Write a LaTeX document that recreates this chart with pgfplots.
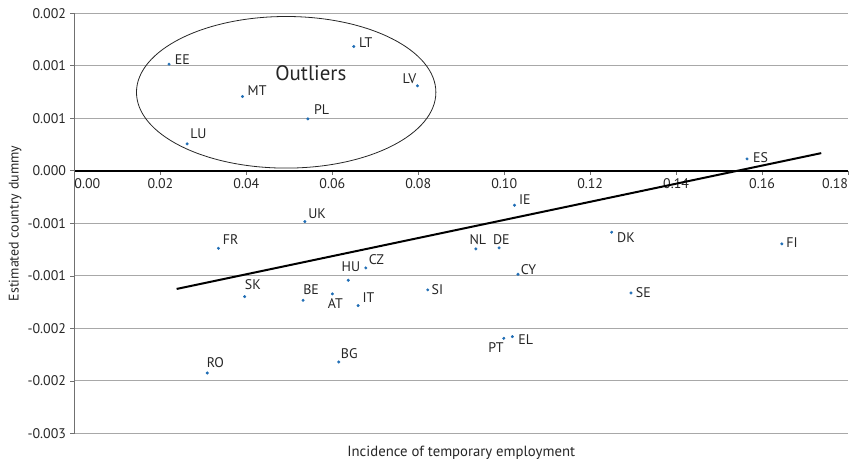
\documentclass[border=0pt]{standalone}
\usepackage{fontspec}
\setmainfont{PT Sans}
\usepackage{pgfplots}
\usepackage{pgfplotstable}
\pgfplotsset{compat=1.18}
\definecolor{dotblue}{HTML}{1F6DB5}
\definecolor{gridgray}{HTML}{A8A8A8}
\definecolor{axgray}{HTML}{707070}

\pgfplotstableread{
x y
0.0220 0.001016
0.0650 0.001184
0.0391 0.000708
0.0798 0.000810
0.0543 0.000495
0.0262 0.000257
0.0536 -0.000483
0.0335 -0.000737
0.0678 -0.000924
0.0637 -0.001041
0.0396 -0.001197
0.0532 -0.001232
0.0600 -0.001171
0.0660 -0.001283
0.0822 -0.001133
0.0615 -0.001819
0.0309 -0.001924
0.1565 0.000114
0.1024 -0.000327
0.0934 -0.000743
0.0988 -0.000733
0.1250 -0.000584
0.1646 -0.000695
0.1032 -0.000984
0.1295 -0.001162
0.0999 -0.001594
0.1019 -0.001578
}\countries

\newcommand{\lab}[6]{\node[anchor=#4, xshift=#5bp, yshift=#6bp, inner sep=0pt, text=black!85, font=\fontsize{14}{16}\selectfont] at (axis cs:#1,#2) {#3};}

\begin{document}
\begin{tikzpicture}
\begin{axis}[
  name=ax,
  scale only axis,
  width=773.5bp, height=420.2bp,
  xmin=0, xmax=0.18, ymin=-0.0025, ymax=0.0015,
  axis x line=middle, axis y line=left,
  axis line style={-},
  x axis line style={black, line width=1.3bp},
  y axis line style={axgray, line width=1bp},
  hide obscured x ticks=false, hide obscured y ticks=false,
  xtick={0,0.02,0.04,0.06,0.08,0.10,0.12,0.14,0.16,0.18},
  xticklabels={\makebox[0pt][l]{0.00},0.02,0.04,0.06,0.08,0.10,0.12,0.14,0.16,\makebox[0pt][r]{0.18}},
  ytick={-0.0025,-0.002,-0.0015,-0.001,-0.0005,0,0.0005,0.001,0.0015},
  yticklabels={-0.003,-0.002,-0.002,-0.001,-0.001,0.000,0.001,0.001,0.002},
  scaled x ticks=false, scaled y ticks=false,
  tick align=outside,
  major tick length=4bp,
  tick style={axgray, line width=0.8bp},
  ticklabel style={font=\fontsize{14}{16}\selectfont, text=black!85},
  yticklabel style={xshift=-1bp},
  ymajorgrids,
  major grid style={gridgray, line width=1bp},
  every axis x label/.style={at={(rel axis cs:0.5,0)}, anchor=center, yshift=-19bp, font=\fontsize{14.8}{17}\selectfont, text=black!85},
  every axis y label/.style={at={(rel axis cs:0,0.5)}, anchor=center, xshift=-59.5bp, rotate=90, font=\fontsize{14}{16}\selectfont, text=black!85},
  xlabel={Incidence of temporary employment},
  ylabel={Estimated country dummy},
  clip=false,
]
\addplot[black, line width=2bp] coordinates {(0.02377,-0.001124) (0.17377,0.000169)};
\addplot[only marks, mark=*, mark size=1.3bp, color=dotblue] table[x=x, y=y] {\countries};
\lab{0.0220}{0.001016}{EE}{west}{5.7}{4.3}
\lab{0.0650}{0.001184}{LT}{west}{5}{4}
\lab{0.0391}{0.000708}{MT}{west}{5}{5.7}
\lab{0.0798}{0.000810}{LV}{east}{-1}{7.3}
\lab{0.0543}{0.000495}{PL}{west}{6}{9.7}
\lab{0.0262}{0.000257}{LU}{west}{3}{10}
\lab{0.0536}{-0.000483}{UK}{west}{3.3}{8.3}
\lab{0.0335}{-0.000737}{FR}{west}{4.3}{8.3}
\lab{0.0678}{-0.000924}{CZ}{west}{2.7}{8.7}
\lab{0.0637}{-0.001041}{HU}{center}{2.7}{14}
\lab{0.0396}{-0.001197}{SK}{west}{0}{11.7}
\lab{0.0532}{-0.001232}{BE}{west}{0}{11}
\lab{0.0600}{-0.001171}{AT}{center}{3}{-9.3}
\lab{0.0660}{-0.001283}{IT}{west}{4.3}{8.3}
\lab{0.0822}{-0.001133}{SI}{west}{3.7}{0}
\lab{0.0615}{-0.001819}{BG}{west}{2}{8.7}
\lab{0.0309}{-0.001924}{RO}{west}{-0.7}{10.7}
\lab{0.1565}{0.000114}{ES}{west}{6}{1.7}
\lab{0.1024}{-0.000327}{IE}{west}{4.3}{5.3}
\lab{0.0934}{-0.000743}{NL}{center}{2}{9}
\lab{0.0988}{-0.000733}{DE}{center}{2.3}{8.7}
\lab{0.1250}{-0.000584}{DK}{west}{5.3}{-5}
\lab{0.1646}{-0.000695}{FI}{west}{4.3}{1.7}
\lab{0.1032}{-0.000984}{CY}{west}{2.7}{4.3}
\lab{0.1295}{-0.001162}{SE}{west}{4.7}{0}
\lab{0.0999}{-0.001594}{PT}{east}{0}{-9.3}
\lab{0.1019}{-0.001578}{EL}{west}{5.7}{-2.7}
\draw[black!85, line width=0.8bp] (axis cs:0.04926,0.000748) ellipse [x radius=149.7bp, y radius=75.8bp];
\node[text=black!85, font=\fontsize{21}{24}\selectfont] at (axis cs:0.055,0.000933) {Outliers};
\end{axis}
\pgfresetboundingbox
\path[use as bounding box] ([xshift=-74.5bp,yshift=-26.5bp]ax.south west) rectangle ([xshift=6bp,yshift=13.3bp]ax.north east);
\end{tikzpicture}
\end{document}
